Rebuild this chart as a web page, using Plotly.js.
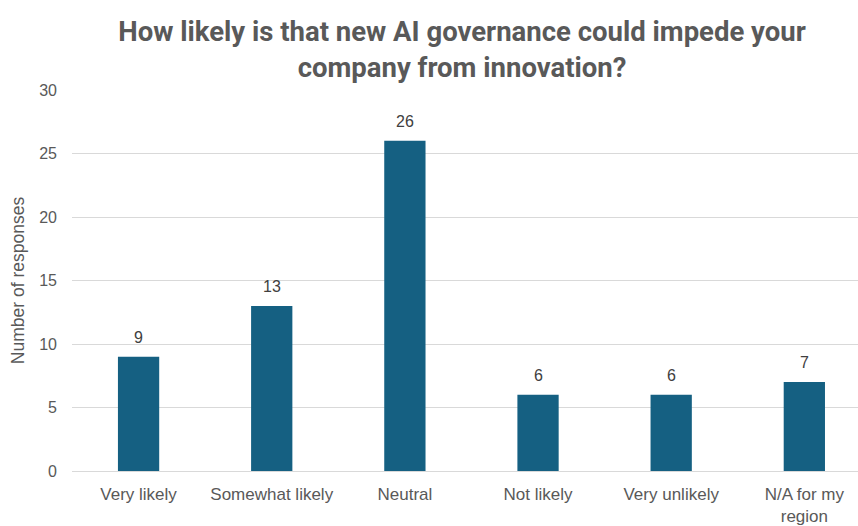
<!DOCTYPE html>
<html>
<head>
<meta charset="utf-8">
<script src="https://cdn.plot.ly/plotly-3.0.1.min.js"></script>
<style>html,body{margin:0;padding:0;background:#fff;}#chart{width:858px;height:526px;}</style>
</head>
<body>
<div id="chart"></div>
<script>
const categories = ["Very likely", "Somewhat likely", "Neutral", "Not likely", "Very unlikely", "N/A for my<br>region"];
const responses = [9, 13, 26, 6, 6, 7];
const yTicks = [0, 5, 10, 15, 20, 25, 30];

const labelFont = {family: "Liberation Sans, Arial, sans-serif", size: 16, color: "#404040"};

const trace = {
  type: "bar",
  x: categories,
  y: responses,
  marker: {color: "#156082"},
  hoverinfo: "x+y"
};

const annotations = categories.map((c, i) => ({
  x: c, y: responses[i], xref: "x", yref: "y",
  text: String(responses[i]),
  showarrow: false,
  yanchor: "bottom",
  yshift: 9,
  font: labelFont
}));

const layout = {
  width: 858,
  height: 526,
  margin: {l: 72, r: 0, t: 90, b: 55},
  paper_bgcolor: "#ffffff",
  plot_bgcolor: "#ffffff",
  showlegend: false,
  bargap: 0.69,
  annotations: annotations,
  title: {
    text: "<b>How likely is that new AI governance could impede your<br>company from innovation?</b>",
    font: {family: "Roboto, sans-serif", size: 27.5, color: "#595959"},
    xref: "container", x: 462/858, xanchor: "center",
    yref: "container", y: 1 - 41/526, yanchor: "middle"
  },
  xaxis: {
    type: "category",
    range: [-0.5, 5.403],
    showgrid: false,
    showline: false,
    zeroline: false,
    ticks: "",
    ticklabelstandoff: 11,
    tickfont: {family: "Liberation Sans, Arial, sans-serif", size: 17, color: "#595959"},
    automargin: false
  },
  yaxis: {
    range: [0, 30],
    tickvals: yTicks,
    ticktext: yTicks.map(String),
    showgrid: true,
    gridcolor: "#d9d9d9",
    gridwidth: 1,
    zeroline: true,
    zerolinecolor: "#d9d9d9",
    zerolinewidth: 1,
    showline: false,
    ticks: "",
    ticklabelstandoff: 14,
    tickfont: {family: "Liberation Sans, Arial, sans-serif", size: 16, color: "#595959"},
    title: {text: "Number of responses", font: {family: "Liberation Sans, Arial, sans-serif", size: 17.5, color: "#595959"}, standoff: 10},
    automargin: false
  }
};

Plotly.newPlot("chart", [trace], layout, {displayModeBar: false, staticPlot: true});
</script>
</body>
</html>
